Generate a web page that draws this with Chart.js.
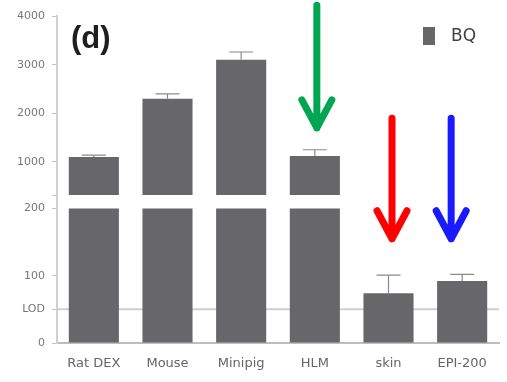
<!DOCTYPE html>
<html lang="en">
<head>
    <meta charset="UTF-8">
    <title>BQ by tissue</title>
    <script src="https://cdn.jsdelivr.net/npm/chart.js"></script>
    <style>
        body {
            margin: 0;
            background: #ffffff;
        }
    </style>
</head>
<body>
    <canvas id="bqChart" width="507" height="382"></canvas>
    <script>
        // Data
        const categories = ['Rat DEX', 'Mouse', 'Minipig', 'HLM', 'skin', 'EPI-200'];
        const bqValues = [1100, 2300, 3100, 1120, 74, 92];
        const bqErrors = [40, 100, 160, 130, 27, 10];
        const lowTicks = [0, 50, 100, 200];
        const highTicks = [320, 1000, 2000, 3000, 4000];
        const lodValue = 50;

        // axis break: lower panel 0..220, upper panel 320..4000
        const breakAt = 200;
        const lowMax = 220;
        const highMin = 320;
        const highMax = 4000;

        const barColor = '#67676a';
        const tickFont = { family: 'DejaVu Sans', size: 11 };

        // arrows pointing at the samples of interest
        const arrows = [
            { category: 'HLM', dx: 2, color: '#00a651', from: ['yHigh', 4220], to: ['yHigh', 1700] },
            { category: 'skin', dx: 3.5, color: '#ff0000', from: ['yHigh', 1900], to: ['yLow', 155] },
            { category: 'EPI-200', dx: -11, color: '#1a1aff', from: ['yHigh', 1900], to: ['yLow', 155] }
        ];

        const lowData = bqValues.map(v => [0, Math.min(v, breakAt)]);
        const highData = bqValues.map(v => v > breakAt ? [highMin, v] : null);

        // LOD line behind the bars
        const lodLine = {
            id: 'lodLine',
            beforeDatasetsDraw(chart) {
                const { ctx, chartArea } = chart;
                const y = chart.scales.yLow.getPixelForValue(lodValue);
                ctx.save();
                ctx.strokeStyle = '#cfcfcf';
                ctx.lineWidth = 2;
                ctx.beginPath();
                ctx.moveTo(chartArea.left, y);
                ctx.lineTo(chartArea.right, y);
                ctx.stroke();
                ctx.restore();
            }
        };

        // error bars, label, legend and arrows on top
        const overlay = {
            id: 'overlay',
            afterDatasetsDraw(chart) {
                const { ctx, scales } = chart;
                ctx.save();
                ctx.strokeStyle = '#8a8a8a';
                ctx.lineWidth = 1.2;
                bqValues.forEach((v, i) => {
                    const scale = v > breakAt ? scales.yHigh : scales.yLow;
                    const x = scales.x.getPixelForValue(i);
                    const y0 = scale.getPixelForValue(v);
                    const y1 = scale.getPixelForValue(v + bqErrors[i]);
                    ctx.beginPath();
                    ctx.moveTo(x, y0);
                    ctx.lineTo(x, y1);
                    ctx.moveTo(x - 12, y1);
                    ctx.lineTo(x + 12, y1);
                    ctx.stroke();
                });
                ctx.restore();
            },
            afterDraw(chart) {
                const { ctx, chartArea, scales } = chart;
                ctx.save();

                // panel letter
                ctx.fillStyle = '#1e1e1e';
                ctx.font = 'bold 31px "Liberation Sans"';
                ctx.textBaseline = 'alphabetic';
                ctx.fillText('(d)', chartArea.left + 14, 48);

                // legend
                const ds = chart.data.datasets[0];
                ctx.fillStyle = ds.backgroundColor;
                ctx.fillRect(chartArea.right - 76, chartArea.top + 11, 12, 18);
                ctx.fillStyle = '#3f3f3f';
                ctx.font = '17px "DejaVu Sans"';
                ctx.textBaseline = 'middle';
                ctx.fillText(ds.label, chartArea.right - 48, chartArea.top + 21);

                // arrows
                ctx.lineWidth = 7;
                ctx.lineCap = 'round';
                ctx.lineJoin = 'round';
                arrows.forEach(a => {
                    const x = scales.x.getPixelForValue(categories.indexOf(a.category)) + a.dx;
                    const yA = scales[a.from[0]].getPixelForValue(a.from[1]);
                    const yB = scales[a.to[0]].getPixelForValue(a.to[1]);
                    ctx.strokeStyle = a.color;
                    ctx.beginPath();
                    ctx.moveTo(x, yA);
                    ctx.lineTo(x, yB);
                    ctx.moveTo(x - 15, yB - 28);
                    ctx.lineTo(x, yB);
                    ctx.lineTo(x + 15, yB - 28);
                    ctx.stroke();
                });
                ctx.restore();
            }
        };

        const barOpts = {
            backgroundColor: barColor,
            borderWidth: 0,
            grouped: false,
            barPercentage: 0.68,
            categoryPercentage: 1
        };

        const ctx = document.getElementById('bqChart').getContext('2d');
        new Chart(ctx, {
            type: 'bar',
            data: {
                labels: categories,
                datasets: [
                    Object.assign({ label: 'BQ', data: lowData, yAxisID: 'yLow' }, barOpts),
                    Object.assign({ label: 'BQ', data: highData, yAxisID: 'yHigh' }, barOpts)
                ]
            },
            options: {
                responsive: false,
                animation: false,
                layout: { padding: { top: 16, right: 8, left: 0, bottom: 0 } },
                plugins: {
                    legend: { display: false },
                    tooltip: { enabled: false }
                },
                scales: {
                    x: {
                        grid: { display: false },
                        border: { display: true, color: '#bdbdbd', width: 2 },
                        ticks: { color: '#666666', font: { family: 'DejaVu Sans', size: 13 }, padding: 5 },
                        afterFit(scale) { scale.height = 39; }
                    },
                    yLow: {
                        type: 'linear',
                        position: 'left',
                        stack: 'y',
                        stackWeight: 148,
                        min: 0,
                        max: lowMax,
                        afterBuildTicks(scale) { scale.ticks = lowTicks.map(v => ({ value: v })); },
                        ticks: {
                            color: '#777777',
                            font: tickFont,
                            padding: 7,
                            callback: v => v === lodValue ? 'LOD' : v
                        },
                        grid: { drawOnChartArea: false, tickLength: 5, color: '#c4c4c4' },
                        border: { color: '#d0d0d0', width: 2 },
                        afterFit(scale) { scale.width = 57; }
                    },
                    yHigh: {
                        type: 'linear',
                        position: 'left',
                        stack: 'y',
                        stackWeight: 179,
                        min: highMin,
                        max: highMax,
                        afterBuildTicks(scale) { scale.ticks = highTicks.map(v => ({ value: v })); },
                        ticks: {
                            color: '#777777',
                            font: tickFont,
                            padding: 7,
                            callback: v => v === highMin ? '' : v
                        },
                        grid: { drawOnChartArea: false, tickLength: 5, color: '#c4c4c4' },
                        border: { color: '#d0d0d0', width: 2 },
                        afterFit(scale) { scale.width = 57; }
                    }
                }
            },
            plugins: [lodLine, overlay]
        });
    </script>
</body>
</html>
